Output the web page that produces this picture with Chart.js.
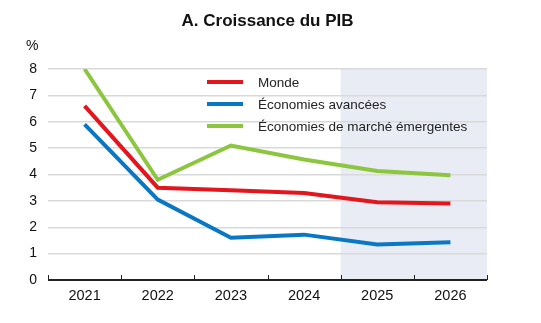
<!DOCTYPE html>
<html>
<head>
<meta charset="utf-8">
<script src="https://cdn.jsdelivr.net/npm/chart.js@4"></script>
<style>
  body { margin: 0; background: #fff; font-family: "Liberation Sans", Arial, sans-serif; }
  #wrap { position: relative; width: 541px; height: 323px; }
  #title { position: absolute; left: 0; width: 535px; top: 11px; text-align: center; font-weight: bold; font-size: 17px; color: #111; }
  #unit { position: absolute; left: 26px; top: 37px; font-size: 14px; color: #111; }
  #legend { position: absolute; left: 207px; top: 71px; font-size: 13.5px; color: #222; }
  .row { height: 22px; display: flex; align-items: center; }
  .sw { width: 36px; height: 4px; margin-right: 15px; }
</style>
</head>
<body>
<div id="wrap">
  <canvas id="chart" width="541" height="323"></canvas>
  <div id="title">A. Croissance du PIB</div>
  <div id="unit">%</div>
  <div id="legend"></div>
</div>
<script>
// données
const years = ['2021', '2022', '2023', '2024', '2025', '2026'];
const monde = [6.6, 3.5, 3.4, 3.3, 2.95, 2.9];
const avancees = [5.9, 3.05, 1.6, 1.72, 1.35, 1.43];
const emergentes = [8.0, 3.8, 5.1, 4.57, 4.13, 3.97];
const seriesNames = ['Monde', 'Économies avancées', 'Économies de marché émergentes'];
const seriesColors = ['#e3161e', '#0a77c4', '#8cc63f'];
const firstForecast = 4; // 2025 : début de la zone ombrée

// légende HTML
const legendEl = document.getElementById('legend');
legendEl.innerHTML = seriesNames.map((n, i) =>
  `<div class="row"><div class="sw" style="background:${seriesColors[i]}"></div>${n}</div>`).join('');

// zone de prévision + petites graduations de l'axe x
const bandPlugin = {
  id: 'band',
  beforeDraw(chart) {
    const { ctx, chartArea, scales } = chart;
    const x = scales.x;
    const half = (x.getPixelForValue(1) - x.getPixelForValue(0)) / 2;
    const left = x.getPixelForValue(firstForecast) - half;
    ctx.save();
    ctx.fillStyle = '#e9ecf4';
    ctx.fillRect(left, chartArea.top, chartArea.right - left, chartArea.bottom - chartArea.top);
    ctx.restore();
  },
  afterDatasetsDraw(chart) {
    const { ctx, chartArea, scales } = chart;
    const x = scales.x;
    const half = (x.getPixelForValue(1) - x.getPixelForValue(0)) / 2;
    ctx.save();
    ctx.strokeStyle = '#222';
    ctx.lineWidth = 1;
    for (let i = 0; i <= years.length; i++) {
      const px = Math.round(x.getPixelForValue(i) - half) + 0.5;
      ctx.beginPath();
      ctx.moveTo(px, chartArea.bottom);
      ctx.lineTo(px, chartArea.bottom - 5);
      ctx.stroke();
    }
    ctx.lineWidth = 2;
    ctx.beginPath();
    ctx.moveTo(chartArea.left, chartArea.bottom);
    ctx.lineTo(chartArea.right, chartArea.bottom);
    ctx.stroke();
    ctx.restore();
  }
};

new Chart(document.getElementById('chart'), {
  type: 'line',
  data: {
    labels: years,
    datasets: [monde, avancees, emergentes].map((d, i) => ({
      label: seriesNames[i],
      data: d,
      borderColor: seriesColors[i],
      backgroundColor: seriesColors[i],
      borderWidth: 4,
      pointRadius: 0,
      tension: 0,
      fill: false
    }))
  },
  options: {
    responsive: false,
    animation: false,
    layout: { padding: { top: 69, right: 54, left: 0, bottom: 0 } },
    plugins: { legend: { display: false }, tooltip: { enabled: false } },
    scales: {
      x: {
        offset: true,
        grid: { display: false, drawTicks: false },
        border: { display: false },
        ticks: { color: '#111', font: { family: 'Liberation Sans', size: 14.5 }, padding: 7 },
        afterFit(s) { s.height = 43; }
      },
      y: {
        min: 0, max: 8,
        ticks: { stepSize: 1, color: '#111', font: { family: 'Liberation Sans', size: 14 }, padding: 11 },
        grid: {
          drawTicks: false,
          color: ctx => ctx.tick && ctx.tick.value === 0 ? 'rgba(0,0,0,0)' : '#d9d9d9',
          lineWidth: 1.5
        },
        border: { display: false },
        afterFit(s) { s.width = 48; }
      }
    }
  },
  plugins: [bandPlugin]
});
</script>
</body>
</html>
